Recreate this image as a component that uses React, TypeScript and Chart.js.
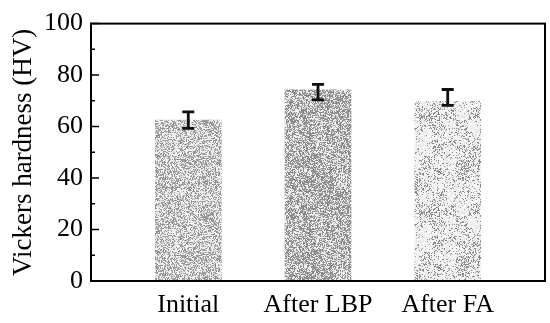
import React, { useEffect, useRef } from "react";
import { Chart, registerables } from "chart.js";

Chart.register(...registerables);

const categories = ["Initial", "After LBP", "After FA"];
const positions = [1, 2, 3];
const hardness = [62.5, 74.3, 69.8];
const errLow = [59.3, 70.4, 68.2];
const errHigh = [65.7, 76.4, 74.4];
const yTicks = [0, 20, 40, 60, 80, 100];
const yMinorTicks = [10, 30, 50, 70, 90];

const FONT = "'Liberation Serif', 'Times New Roman', serif";

function makePattern(
  seed: number,
  darkFrac: number,
  clump: number,
  darkBase: number,
  darkSpan: number,
  lightBase: number
): CanvasPattern | string {
  const size = 96;
  const c = document.createElement("canvas");
  c.width = size;
  c.height = size;
  const ctx = c.getContext("2d");
  if (!ctx) return "#b0b0b0";
  const img = ctx.createImageData(size, size);
  let s = seed >>> 0;
  const rnd = () => {
    s = (Math.imul(s, 1664525) + 1013904223) >>> 0;
    return s / 4294967296;
  };
  const cells = 8;
  const field: number[] = [];
  for (let i = 0; i < cells * cells; i++) field.push(rnd());
  const fieldAt = (x: number, y: number) => {
    const cx = Math.floor((x / size) * cells) % cells;
    const cy = Math.floor((y / size) * cells) % cells;
    return field[cy * cells + cx];
  };
  for (let y = 0; y < size; y++) {
    for (let x = 0; x < size; x++) {
      const p = darkFrac + (fieldAt(x, y) - 0.5) * clump;
      const dark = rnd() < p;
      const v = dark
        ? darkBase + Math.floor(rnd() * darkSpan)
        : lightBase + Math.floor(rnd() * (255 - lightBase));
      const idx = (y * size + x) * 4;
      img.data[idx] = v;
      img.data[idx + 1] = v;
      img.data[idx + 2] = v;
      img.data[idx + 3] = 255;
    }
  }
  ctx.putImageData(img, 0, 0);
  const pat = ctx.createPattern(c, "repeat");
  return pat || "#b0b0b0";
}

const framePlugin = {
  id: "frameAndErrors",
  afterDatasetsDraw(chart: any) {
    const { ctx, chartArea, scales } = chart;
    const xs = scales.x;
    const ys = scales.y;
    ctx.save();
    ctx.strokeStyle = "#111";
    ctx.lineWidth = 2.8;
    for (let i = 0; i < positions.length; i++) {
      const px = xs.getPixelForValue(positions[i]);
      const yl = ys.getPixelForValue(errLow[i]);
      const yh = ys.getPixelForValue(errHigh[i]);
      ctx.beginPath();
      ctx.moveTo(px, yl);
      ctx.lineTo(px, yh);
      ctx.moveTo(px - 6, yl);
      ctx.lineTo(px + 6, yl);
      ctx.moveTo(px - 6, yh);
      ctx.lineTo(px + 6, yh);
      ctx.stroke();
    }
    ctx.strokeStyle = "#000";
    ctx.lineWidth = 1.5;
    ctx.beginPath();
    for (const t of yTicks) {
      const py = ys.getPixelForValue(t);
      ctx.moveTo(chartArea.left, py);
      ctx.lineTo(chartArea.left + 8, py);
    }
    for (const t of yMinorTicks) {
      const py = ys.getPixelForValue(t);
      ctx.moveTo(chartArea.left, py);
      ctx.lineTo(chartArea.left + 4, py);
    }
    ctx.stroke();
    ctx.lineWidth = 2;
    ctx.strokeRect(
      chartArea.left,
      chartArea.top,
      chartArea.right - chartArea.left,
      chartArea.bottom - chartArea.top
    );
    ctx.restore();
  },
};

export default function App() {
  const ref = useRef<HTMLCanvasElement | null>(null);
  useEffect(() => {
    if (!ref.current) return;
    const patterns = [
      makePattern(12345, 0.45, 0.2, 135, 40, 220),
      makePattern(67890, 0.55, 0.25, 125, 40, 215),
      makePattern(24680, 0.22, 0.4, 120, 50, 228),
    ];
    const chart = new Chart(ref.current, {
      type: "bar",
      data: {
        datasets: [
          {
            data: positions.map((p, i) => ({ x: p, y: hardness[i] })),
            backgroundColor: patterns as any,
            borderWidth: 0,
            barThickness: 66,
          },
        ],
      },
      options: {
        animation: false,
        responsive: false,
        layout: { padding: { top: 19, right: 5, left: 0, bottom: 0 } },
        plugins: { legend: { display: false }, tooltip: { enabled: false } },
        scales: {
          x: {
            type: "linear",
            min: 0.25,
            max: 3.75,
            offset: false,
            grid: { display: false, drawTicks: false },
            border: { display: false },
            afterBuildTicks: (scale: any) => {
              scale.ticks = positions.map((v) => ({ value: v }));
            },
            afterFit: (scale: any) => {
              scale.height = 42;
            },
            ticks: {
              padding: 9,
              color: "#000",
              font: { family: FONT, size: 26 },
              autoSkip: false,
              maxRotation: 0,
              callback: (v: any) => {
                const i = positions.indexOf(Number(v));
                return i >= 0 ? categories[i] : "";
              },
            },
          },
          y: {
            min: 0,
            max: 100,
            grid: { display: false, drawTicks: false },
            border: { display: false },
            afterBuildTicks: (scale: any) => {
              scale.ticks = yTicks.map((v) => ({ value: v }));
            },
            afterFit: (scale: any) => {
              scale.width = 91;
            },
            ticks: {
              padding: 8,
              color: "#000",
              font: { family: FONT, size: 26 },
            },
            title: {
              display: true,
              text: "Vickers hardness (HV)",
              color: "#000",
              font: { family: FONT, size: 27 },
              padding: { top: 8, bottom: 0 },
            },
          },
        },
      },
      plugins: [framePlugin],
    });
    return () => chart.destroy();
  }, []);
  return (
    <div style={{ position: "fixed", left: 0, top: 0, width: 550, height: 323, background: "#fff" }}>
      <canvas ref={ref} width={550} height={323} style={{ display: "block" }} />
    </div>
  );
}
